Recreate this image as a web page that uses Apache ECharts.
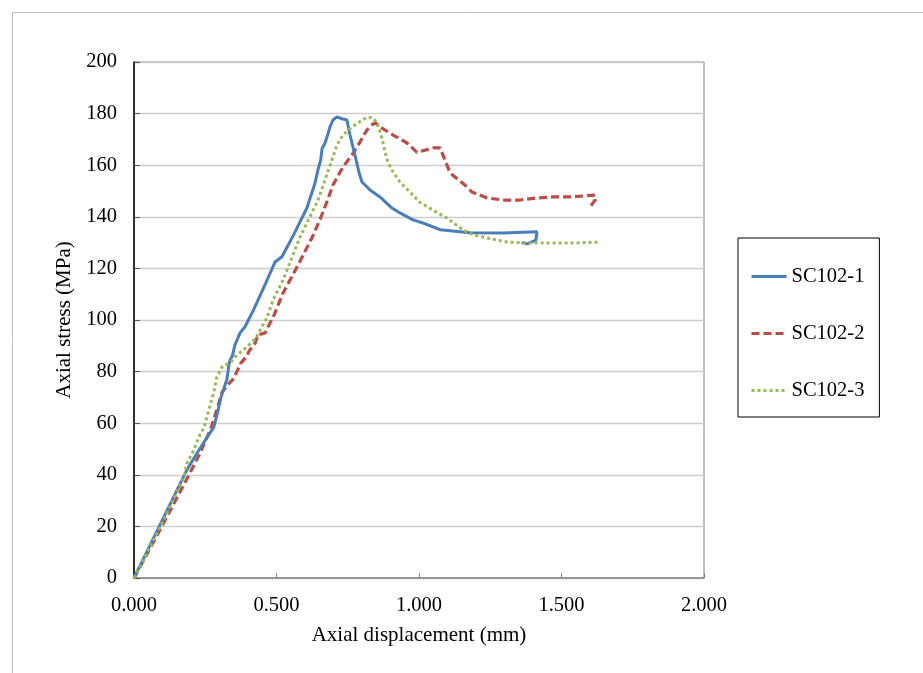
<!DOCTYPE html>
<html>
<head>
<meta charset="utf-8">
<script src="https://cdn.jsdelivr.net/npm/echarts@6/dist/echarts.min.js"></script>
<style>
html,body{margin:0;padding:0;background:#fff;}
#chart{width:923px;height:673px;}
</style>
</head>
<body>
<div id="chart"></div>
<script>
// Axis ticks
var xTicks = [0, 0.5, 1.0, 1.5, 2.0];
var yTicks = [0, 20, 40, 60, 80, 100, 120, 140, 160, 180, 200];
var seriesNames = ['SC102-1', 'SC102-2', 'SC102-3'];

// SC102-1: [displacement (mm), stress (MPa)]
var sc1 = [
  [0,0],[0.093,21],[0.186,42],[0.23,50],[0.28,58.5],[0.295,65],[0.305,70],[0.326,77],
  [0.333,82.6],[0.337,84.5],[0.345,86],[0.354,90.3],[0.36,91],[0.372,95],[0.389,97.3],
  [0.42,104],[0.467,115.5],[0.495,122.5],[0.519,124.5],[0.56,133],[0.607,143.5],
  [0.62,148],[0.635,153],[0.645,158],[0.655,162],[0.66,166.5],[0.67,168.5],[0.68,172],
  [0.688,175],[0.698,177.5],[0.712,178.7],[0.73,178],[0.747,177.5],[0.758,171.7],
  [0.775,164],[0.79,157],[0.8,153.5],[0.828,150.4],[0.863,147.7],[0.905,143.4],
  [0.933,141.5],[0.979,138.8],[1.014,137.6],[1.074,135],[1.179,133.8],[1.295,133.7],
  [1.414,134.2],[1.41,131],[1.38,129.5],[1.36,130]
];

// SC102-2
var sc2 = [
  [0,0],[0.1,20.5],[0.193,40],[0.23,48],[0.27,58],[0.29,65],[0.309,72],[0.33,75],
  [0.347,77],[0.361,80],[0.375,83.3],[0.396,86],[0.404,88],[0.425,91],[0.435,94.2],
  [0.46,95],[0.477,98.8],[0.488,101],[0.523,110.5],[0.572,120.5],[0.625,132],
  [0.653,139],[0.681,147],[0.698,152.3],[0.733,159.3],[0.765,164],[0.793,169],
  [0.817,173.6],[0.835,175.6],[0.846,176.4],[0.87,174.4],[0.909,171.7],[0.958,168.6],
  [0.993,165],[1.049,166.7],[1.074,166.7],[1.091,162],[1.109,157],[1.161,152.3],
  [1.186,149.6],[1.239,147.3],[1.295,146.5],[1.354,146.5],[1.414,147.3],[1.47,147.7],
  [1.53,147.7],[1.618,148.4],[1.618,146.5],[1.6,143.8]
];

// SC102-3
var sc3 = [
  [0,0],[0.1,21.5],[0.175,39],[0.186,44.6],[0.21,49.6],[0.228,54.7],[0.246,58.5],
  [0.256,62.4],[0.27,68.2],[0.28,72],[0.291,77.9],[0.309,81.8],[0.34,83.7],[0.361,86.4],
  [0.396,89.5],[0.428,93],[0.442,96],[0.467,101],[0.488,107.8],[0.523,115.5],
  [0.537,119.4],[0.582,132],[0.615,139.5],[0.646,146.5],[0.66,151],[0.688,160],
  [0.712,167.8],[0.733,171.7],[0.765,174.8],[0.8,177.5],[0.821,178.7],[0.839,178.3],
  [0.853,176.4],[0.87,170.5],[0.881,165],[0.891,161.2],[0.909,157.4],[0.933,153.5],
  [0.968,149.6],[1.004,145.5],[1.049,142.6],[1.098,139.5],[1.154,135],[1.19,133],
  [1.239,131.8],[1.309,130.2],[1.414,129.8],[1.53,129.8],[1.635,130.2]
];

var FONT = '"Liberation Serif", "Times New Roman", serif';
var chart = echarts.init(document.getElementById('chart'), null, {renderer: 'canvas'});
chart.setOption({
  animation: false,
  backgroundColor: '#ffffff',
  textStyle: {fontFamily: FONT},
  graphic: [
    {type: 'line', shape: {x1: 12, y1: 12.5, x2: 923, y2: 12.5}, style: {stroke: '#bfbfbf', lineWidth: 1}},
    {type: 'line', shape: {x1: 12.5, y1: 12, x2: 12.5, y2: 673}, style: {stroke: '#bfbfbf', lineWidth: 1}}
  ],
  grid: {
    left: 134, right: 219, top: 62, bottom: 95,
    show: true, borderColor: '#7f7f7f', borderWidth: 1
  },
  legend: {
    orient: 'vertical',
    left: 738, top: 238,
    padding: [28, 15, 16, 12],
    itemWidth: 35, itemHeight: 14, itemGap: 36,
    borderColor: '#000', borderWidth: 1,
    itemStyle: {opacity: 0},
    lineStyle: {width: 3},
    textStyle: {fontFamily: FONT, fontSize: 20.5, color: '#000'},
    data: seriesNames
  },
  xAxis: {
    type: 'value', min: 0, max: 2, interval: 0.5,
    name: 'Axial displacement (mm)', nameLocation: 'middle', nameGap: 47,
    nameTextStyle: {fontFamily: FONT, fontSize: 21, color: '#000'},
    axisLine: {show: true, onZero: false, lineStyle: {color: '#868686', width: 1.5}},
    axisTick: {show: true, inside: true, length: 5, lineStyle: {color: '#868686'}},
    axisLabel: {fontFamily: FONT, fontSize: 20.5, color: '#000', margin: 17,
      formatter: function (v) { return xTicks.indexOf(v) >= 0 ? v.toFixed(3) : ''; }},
    splitLine: {show: false}
  },
  yAxis: {
    type: 'value', min: 0, max: 200, interval: 20,
    name: 'Axial stress (MPa)', nameLocation: 'middle', nameGap: 54,
    nameTextStyle: {fontFamily: FONT, fontSize: 21, color: '#000'},
    axisLine: {show: true, onZero: false, lineStyle: {color: '#000', width: 1.5}},
    axisTick: {show: true, inside: true, length: 6, lineStyle: {color: '#555'}},
    axisLabel: {fontFamily: FONT, fontSize: 20.5, color: '#000', margin: 17,
      formatter: function (v) { return yTicks.indexOf(v) >= 0 ? String(v) : ''; }},
    splitLine: {show: true, lineStyle: {color: '#cdcdcd', width: 1.3}}
  },
  series: [
    {name: seriesNames[0], type: 'line', data: sc1, symbol: 'none', smooth: false,
     lineStyle: {color: '#4a7ebb', width: 3}, itemStyle: {color: '#4a7ebb'}, z: 3},
    {name: seriesNames[1], type: 'line', data: sc2, symbol: 'none', smooth: false,
     lineStyle: {color: '#be4b48', width: 3.2, type: [8, 4]}, itemStyle: {color: '#be4b48'}, z: 2},
    {name: seriesNames[2], type: 'line', data: sc3, symbol: 'none', smooth: false,
     lineStyle: {color: '#98b954', width: 3, type: [3, 3]}, itemStyle: {color: '#98b954'}, z: 4}
  ]
});
</script>
</body>
</html>
